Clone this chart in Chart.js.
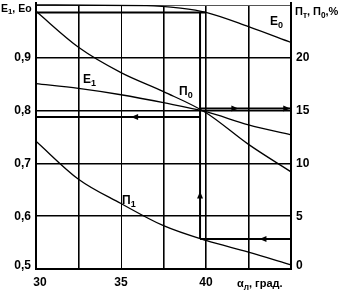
<!DOCTYPE html>
<html>
<head>
<meta charset="utf-8">
<script src="https://cdn.jsdelivr.net/npm/chart.js@4/dist/chart.umd.min.js"></script>
<style>
  html, body { margin: 0; padding: 0; background: #fff; }
  #wrap { width: 341px; height: 293px; }
</style>
</head>
<body>
<div id="wrap"><canvas id="chart" width="341" height="293"></canvas></div>
<script>
  // angle, degrees
  var alpha = [30, 32.5, 35, 37.5, 40, 42.5, 45];
  var e1 = [0.851, 0.842, 0.830, 0.815, 0.798, 0.773, 0.754];
  var pi0 = [24.4, 21.0, 18.6, 16.8, 14.8, 11.8, 9.2];
  var pi1 = [12.1, 8.5, 6.2, 4.1, 2.7, 1.6, 0.4];
  var alphaE0 = [30, 36.5, 38.5, 40, 42.5, 45];
  var e0 = [1.0, 0.999, 0.994, 0.986, 0.959, 0.929];

  // reading lines of the nomogram
  var guideAlpha = 39.65;
  var guideE0 = 0.986;
  var guideE1 = 0.788;
  var guidePi0 = 15.2;
  var guidePi1 = 2.85;

  var leftTicks = [0.5, 0.6, 0.7, 0.8, 0.9];
  var rightTicks = [0, 5, 10, 15, 20];
  var xTicks = [30, 35, 40];

  var FONT = '"Liberation Sans Narrow", "Liberation Sans", Arial, sans-serif';

  function pts(xs, ys) {
    return xs.map(function (x, i) { return { x: x, y: ys[i] }; });
  }

  function curve(data, axis) {
    return {
      data: data, yAxisID: axis, borderColor: '#000', borderWidth: 1.3,
      pointRadius: 0, cubicInterpolationMode: 'monotone', clip: 4
    };
  }
  function guide(data, axis) {
    return {
      data: data, yAxisID: axis, borderColor: '#000', borderWidth: 2,
      pointRadius: 0, tension: 0, clip: 4
    };
  }

  // draws text with parts given as [text, isSub]
  function drawParts(ctx, parts, x, y, size) {
    var cx = x;
    parts.forEach(function (p) {
      var s = p[1] ? size * 0.75 : size;
      ctx.font = 'bold ' + s + 'px ' + FONT;
      ctx.fillText(p[0], cx, p[1] ? y + size * 0.3 : y);
      cx += ctx.measureText(p[0]).width;
    });
  }

  function arrow(ctx, x, y, dir) {
    var L = 7, W = 3;
    ctx.beginPath();
    if (dir === 'left') { ctx.moveTo(x - L / 2, y); ctx.lineTo(x + L / 2, y - W); ctx.lineTo(x + L / 2, y + W); }
    if (dir === 'right') { ctx.moveTo(x + L / 2, y); ctx.lineTo(x - L / 2, y - W); ctx.lineTo(x - L / 2, y + W); }
    if (dir === 'up') { ctx.moveTo(x, y - L / 2); ctx.lineTo(x - W, y + L / 2); ctx.lineTo(x + W, y + L / 2); }
    ctx.closePath();
    ctx.fill();
  }

  var labels = {
    id: 'labels',
    afterDraw: function (chart) {
      var ctx = chart.ctx;
      var sx = chart.scales.x, sl = chart.scales.yL, sr = chart.scales.yR;
      ctx.save();
      ctx.fillStyle = '#000';
      ctx.textBaseline = 'middle';

      // left axis runs a little above the frame
      ctx.fillRect(35, 2, 2, 6);
      ctx.fillRect(290, 2, 2, 6);

      ctx.font = 'bold 12px ' + FONT;
      ctx.textAlign = 'right';
      leftTicks.forEach(function (v) {
        var y = sl.getPixelForValue(v);
        if (v === 0.5) y -= 3;
        ctx.fillText(v.toFixed(1).replace('.', ','), 31, y);
      });
      ctx.textAlign = 'left';
      rightTicks.forEach(function (v) {
        var y = sr.getPixelForValue(v);
        if (v === 0) y -= 3;
        ctx.fillText(String(v), 296, y);
      });
      ctx.textAlign = 'center';
      xTicks.forEach(function (v) {
        var x = sx.getPixelForValue(v);
        if (v === 30) x += 4;
        ctx.fillText(String(v), x, 283);
      });

      ctx.textAlign = 'left';
      drawParts(ctx, [['α', false], ['л', true], [', град.', false]], 237, 284, 11);
      drawParts(ctx, [['E', false], ['1', true], [', Eo', false]], 1, 9, 10.5);
      drawParts(ctx, [['П', false], ['т', true], [', П', false], ['0', true], [',%', false]], 295, 12, 11);

      // curve names
      drawParts(ctx, [['E', false], ['0', true]], 270, 22, 12);
      drawParts(ctx, [['E', false], ['1', true]], 83, 80, 12);
      drawParts(ctx, [['П', false], ['0', true]], 179, 92, 12);
      drawParts(ctx, [['П', false], ['1', true]], 122, 201, 12);

      // arrow heads on the reading lines
      arrow(ctx, sx.getPixelForValue(35.8), sl.getPixelForValue(guideE1), 'left');
      arrow(ctx, sx.getPixelForValue(41.7), sr.getPixelForValue(guidePi0), 'right');
      arrow(ctx, sx.getPixelForValue(44.75), sr.getPixelForValue(guidePi0), 'right');
      arrow(ctx, sx.getPixelForValue(43.35), sr.getPixelForValue(guidePi1), 'left');
      arrow(ctx, sx.getPixelForValue(guideAlpha), sr.getPixelForValue(7.0), 'up');
      ctx.restore();
    }
  };

  var chart = new Chart(document.getElementById('chart'), {
    type: 'line',
    data: {
      datasets: [
        curve(pts(alphaE0, e0), 'yL'),
        curve(pts(alpha, e1), 'yL'),
        curve(pts(alpha, pi0), 'yR'),
        curve(pts(alpha, pi1), 'yR'),
        guide([{ x: 30, y: guideE0 }, { x: 40, y: guideE0 }], 'yL'),
        guide([{ x: 30, y: guideE1 }, { x: guideAlpha, y: guideE1 }], 'yL'),
        guide([{ x: guideAlpha, y: guidePi0 }, { x: 45, y: guidePi0 }], 'yR'),
        guide([{ x: guideAlpha, y: guidePi1 }, { x: 45, y: guidePi1 }], 'yR'),
        guide([{ x: guideAlpha, y: guidePi1 }, { x: guideAlpha, y: 24.35 }], 'yR')
      ]
    },
    options: {
      responsive: false,
      animation: false,
      layout: { padding: { left: 36, right: 50, top: 5, bottom: 24 } },
      plugins: { legend: { display: false }, tooltip: { enabled: false } },
      scales: {
        x: {
          type: 'linear', min: 30, max: 45,
          ticks: { display: false, stepSize: 2.5 },
          grid: {
            drawTicks: false, color: '#000',
            lineWidth: function (c) { return c.tick && c.tick.value === 35 ? 1 : 1.6; }
          },
          border: { color: '#000', width: 2 }
        },
        yL: {
          position: 'left', min: 0.5, max: 1.0,
          ticks: { display: false, stepSize: 0.1 },
          grid: {
            drawTicks: false,
            color: function (c) { return c.tick && c.tick.value > 0.95 ? '#555' : '#000'; },
            lineWidth: function (c) { return c.tick && c.tick.value > 0.95 ? 1 : 1.6; }
          },
          border: { color: '#000', width: 2 }
        },
        yR: {
          position: 'right', min: 0, max: 25,
          ticks: { display: false, stepSize: 5 },
          grid: { display: false, drawTicks: false },
          border: { color: '#000', width: 2 }
        }
      }
    },
    plugins: [labels]
  });
</script>
</body>
</html>
